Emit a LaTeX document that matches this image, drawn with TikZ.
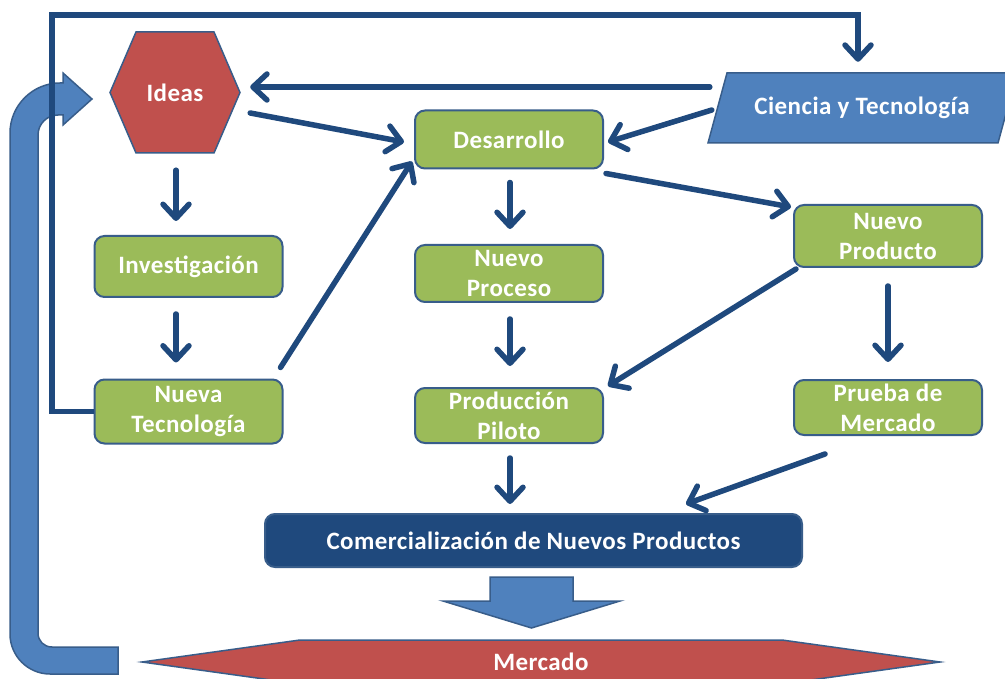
\documentclass[tikz,border=0pt]{standalone}
\usepackage{fontspec}
\setmainfont{Carlito}[LetterSpace=1.8]
\usetikzlibrary{arrows.meta,positioning,calc}
\definecolor{navyline}{RGB}{31,73,125}
\definecolor{leafgreen}{RGB}{155,187,89}
\definecolor{edgeblue}{RGB}{56,93,138}
\definecolor{brick}{RGB}{192,80,77}
\definecolor{skyblue}{RGB}{79,129,189}

\begin{document}
\begin{tikzpicture}[x=1pt,y=-1pt,
font=\fontsize{25}{30}\selectfont\bfseries,
etapa/.style={draw=edgeblue,line width=2pt,rounded corners=10pt,fill=leafgreen,text=white,minimum width=188pt,align=center,inner sep=0pt},
tag/.style={text=white,inner sep=0pt,align=center},
forma/.style={draw=edgeblue,line width=1.5pt},
arr/.style={-{Straight Barb[length=14pt,width=26pt,round]},line width=5.5pt,navyline,line cap=round}
]
\useasboundingbox (0,0) rectangle (1005,679);
\clip (0,0) rectangle (1005,679);
\fill[white] (0,0) rectangle (1005,679);

\filldraw[forma,fill=skyblue] (118,647) -- (52,647) .. controls (44,647) and (38,641) .. (38,633) -- (38,135)
  .. controls (38,124) and (47,115) .. (58,115) -- (63,115) -- (63,125) -- (92,99) -- (63,73) -- (63,83) -- (60,83)
  .. controls (32.5,83) and (10,105.5) .. (10,133) -- (10,634) .. controls (10,656) and (28,674) .. (50,674) -- (118,674) -- cycle;
\filldraw[forma,fill=brick] (110,92.5) -- (136,32) -- (214,32) -- (240,92.5) -- (214,153) -- (136,153) -- cycle;
\filldraw[forma,fill=skyblue] (727,73) -- (1017,73) -- (998,143) -- (708,143) -- cycle;
\filldraw[forma,fill=brick] (142,662) -- (300,640) -- (782,640) -- (940,662) -- (782,684) -- (300,684) -- cycle;
\filldraw[forma,fill=skyblue] (490,577) -- (573,577) -- (573,601) -- (620,601) -- (531.5,628) -- (443,601) -- (490,601) -- cycle;

\node[tag,minimum width=130pt,minimum height=121pt] (ideas) at (175,92.5) {Ideas};
\node[tag,minimum width=290pt,minimum height=70pt] (cyt) at (862,108) {Ciencia y Tecnología};
\node[tag] (mer) at (541,662) {Mercado};
\node[etapa,minimum height=58pt] (des) at (509,139.5) {Desarrollo};
\node[etapa,minimum height=61pt] (inv) at (188.5,266.5) {Investigación};
\node[etapa,minimum height=64pt] (nt) at (188.5,411.5) {Nueva\\Tecnología};
\node[etapa,minimum height=57pt] (np) at (509,273.5) {Nuevo\\Proceso};
\node[etapa,minimum height=55pt] (pp) at (509,415.5) {Producción\\Piloto};
\node[etapa,minimum height=62pt] (nprod) at (888,236) {Nuevo\\Producto};
\node[etapa,minimum height=55pt] (prueba) at (888,407.5) {Prueba de\\Mercado};
\node[etapa,fill=navyline,minimum width=537pt,minimum height=53pt] (com) at (533.5,540.5) {Comercialización de Nuevos Productos};

\draw[arr,line cap=butt] (nt.west) -| (52,15) -| ($(cyt.north)+(-4,-11)$);
\draw[arr] ($(cyt.west)+(-7,-21)$) -- ($(ideas.east)+(10,-5.5)$);
\draw[arr] ($(ideas.east)+(10,20.5)$) -- ($(des.west)+(-10,2.5)$);
\draw[arr] ($(cyt.west)+(-5,2)$) -- ($(des.east)+(4,2.5)$);
\draw[arr] ($(ideas.south)+(1,17)$) -- ($(ideas.south |- inv.north)+(1,-14)$);
\draw[arr] ($(ideas.south |- inv.south)+(1,16)$) -- ($(ideas.south |- nt.north)+(1,-16)$);
\draw[arr] ($(nt.north east)+(-3,-11)$) -- ($(des.south west)+(-2,-8)$);
\draw[arr] ($(des.south)+(1,13)$) -- ($(np.north)+(1,-15)$);
\draw[arr] ($(des.south east)+(2,4)$) -- ($(nprod.north west)+(-2,3)$);
\draw[arr] ($(nprod.south west)+(3,1)$) -- ($(pp.north east)+(4,-1)$);
\draw[arr] ($(nprod.south)+(0,18)$) -- ($(prueba.north)+(0,-17)$);
\draw[arr] ($(np.south)+(1,16)$) -- ($(pp.north)+(1,-21)$);
\draw[arr] ($(pp.south)+(1,14)$) -- ($(pp.south |- com.north)+(1,-9)$);
\draw[arr] ($(prueba.south)+(-63,18)$) -- ($(com.north east)+(-117,-9)$);
\end{tikzpicture}
\end{document}
